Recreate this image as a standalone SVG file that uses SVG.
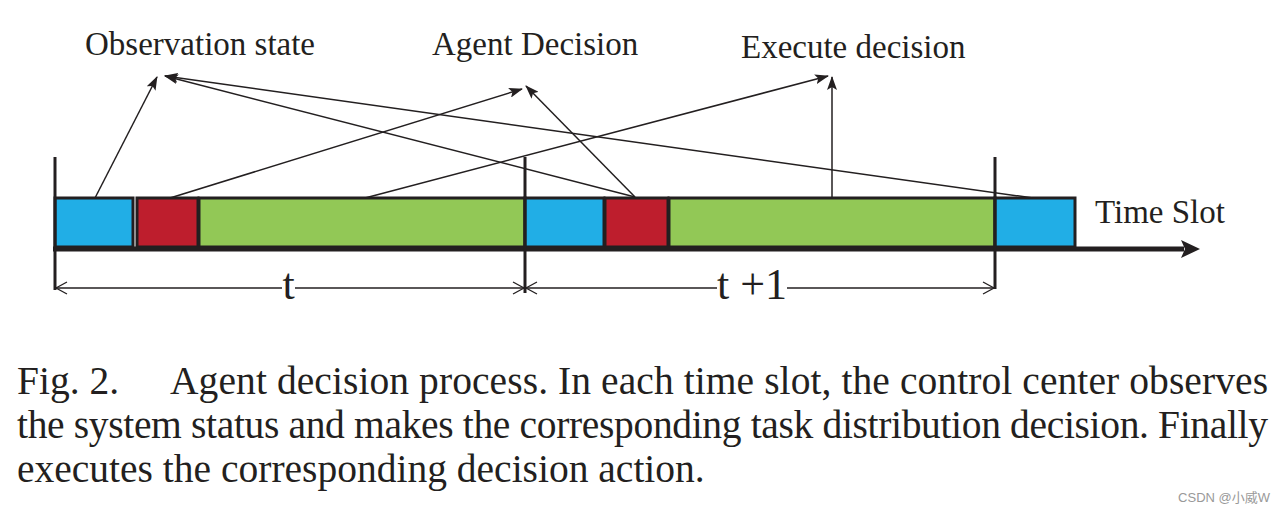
<svg xmlns="http://www.w3.org/2000/svg" width="1286" height="514" viewBox="0 0 1286 514">
<style>
.lbl{font-family:"Liberation Serif","Times New Roman",serif;fill:#231f20}
.thin{stroke:#231f20;stroke-width:1.5;fill:none}
.tick{stroke:#231f20;stroke-width:3;fill:none}
.box{stroke:#231f20;stroke-width:3}
.dim{stroke:#231f20;stroke-width:1.3;fill:none}
.cap{font-family:"Liberation Serif","Times New Roman",serif;font-size:39.5px;fill:#231f20}
</style>
<defs>
<marker id="ah" viewBox="0 0 14 10" refX="13" refY="5" markerWidth="14" markerHeight="10" markerUnits="userSpaceOnUse" orient="auto">
<path d="M0,0 L14,5 L0,10 L3,5 z" fill="#231f20"/>
</marker>
</defs>
<rect width="1286" height="514" fill="#ffffff"/>

<g id="slot-t">
<rect class="box" x="55" y="198" width="78" height="49" fill="#21aee6"/>
<rect class="box" x="137" y="198" width="61" height="49" fill="#be1e2d"/>
<rect class="box" x="199" y="198" width="326" height="49" fill="#92c856"/>
</g>
<g id="slot-t1">
<rect class="box" x="525" y="198" width="79" height="49" fill="#21aee6"/>
<rect class="box" x="605" y="198" width="63" height="49" fill="#be1e2d"/>
<rect class="box" x="669" y="198" width="326" height="49" fill="#92c856"/>
</g>
<g id="slot-t2">
<rect class="box" x="995" y="198" width="80" height="49" fill="#21aee6"/>
</g>

<g id="axis">
<line x1="53" y1="249" x2="1184" y2="249" stroke="#231f20" stroke-width="5"/>
<path d="M1200,249 L1181,240 L1185,249 L1181,258 z" fill="#231f20"/>
<line class="tick" x1="55" y1="157" x2="55" y2="290"/>
<line class="tick" x1="525" y1="157" x2="525" y2="293"/>
<line class="tick" x1="995" y1="157" x2="995" y2="289"/>
<text class="lbl" x="1095" y="223" font-size="33">Time Slot</text>
</g>

<g id="dimensions">
<line class="dim" x1="56" y1="288" x2="282" y2="288"/>
<line class="dim" x1="295" y1="288" x2="524" y2="288"/>
<path class="dim" d="M67,282 L56,288 L67,294"/>
<path class="dim" d="M513,282 L524,288 L513,294"/>
<text class="lbl" x="288.5" y="299" font-size="44" text-anchor="middle">t</text>
<line class="dim" x1="526" y1="288" x2="717" y2="288"/>
<line class="dim" x1="787" y1="288" x2="994" y2="288"/>
<path class="dim" d="M537,282 L526,288 L537,294"/>
<path class="dim" d="M983,282 L994,288 L983,294"/>
<text class="lbl" x="752" y="299" font-size="44" text-anchor="middle">t +1</text>
</g>

<g id="label-observation"><text class="lbl" x="85" y="55" font-size="33">Observation state</text></g>
<g id="label-agent"><text class="lbl" x="432" y="55" font-size="33">Agent Decision</text></g>
<g id="label-execute"><text class="lbl" x="741" y="58" font-size="33">Execute decision</text></g>

<g id="connectors">
<line class="thin" x1="95" y1="198" x2="157" y2="77" marker-end="url(#ah)"/>
<line class="thin" x1="635" y1="197" x2="165" y2="76" marker-end="url(#ah)"/>
<line class="thin" x1="1033" y1="198" x2="165" y2="76" marker-end="url(#ah)"/>
<line class="thin" x1="170" y1="198" x2="522" y2="89" marker-end="url(#ah)"/>
<line class="thin" x1="635" y1="197" x2="526" y2="86" marker-end="url(#ah)"/>
<line class="thin" x1="365" y1="198" x2="828" y2="76" marker-end="url(#ah)"/>
<line class="thin" x1="832" y1="198" x2="832" y2="77" marker-end="url(#ah)"/>
</g>

<g id="caption">
<text class="cap" x="17" y="394">Fig. 2.</text>
<text class="cap" x="170" y="394" textLength="1098" lengthAdjust="spacing">Agent decision process. In each time slot, the control center observes</text>
<text class="cap" x="17" y="438" textLength="1251" lengthAdjust="spacing">the system status and makes the corresponding task distribution decision. Finally</text>
<text class="cap" x="17" y="482">executes the corresponding decision action.</text>
</g>
<text x="1270" y="502" text-anchor="end" font-family="'Liberation Sans','Noto Sans CJK SC',sans-serif" font-size="13" fill="#999999">CSDN @小威W</text>
</svg>
